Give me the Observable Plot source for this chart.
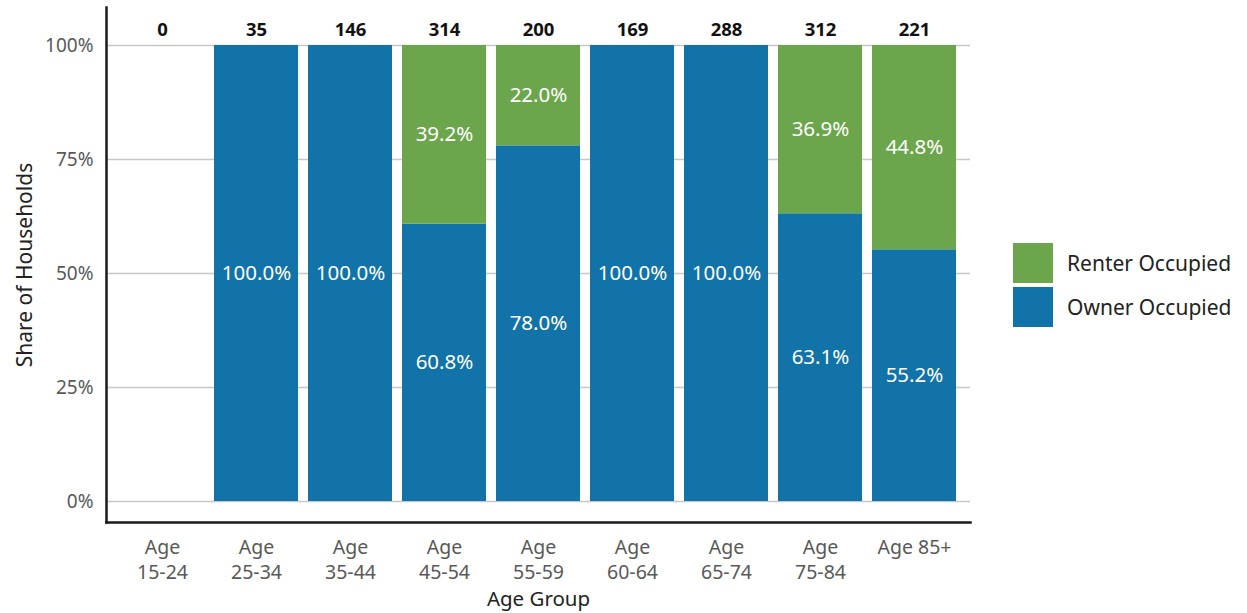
<!DOCTYPE html>
<html><head><meta charset="utf-8">
<script src="https://cdn.jsdelivr.net/npm/d3@7"></script>
<script src="https://cdn.jsdelivr.net/npm/@observablehq/plot@0.6"></script>
<style>
body{margin:0;background:#fff;font-family:"Noto Sans",sans-serif;}
#wrap{position:relative;width:1247px;height:613px;}
#legend{position:absolute;left:1013px;top:243px;}
.row{display:flex;align-items:center;height:40px;margin-bottom:4px;}
.sw{width:40px;height:40px;margin-right:14px;}
.lab{font-size:21px;color:#222;}
g[aria-label="pct"] text{letter-spacing:0.6px;}
</style></head><body><div id="wrap"><div id="chart"></div><div id="legend"></div></div>
<script>
const ageGroups = ["Age\n15-24","Age\n25-34","Age\n35-44","Age\n45-54","Age\n55-59","Age\n60-64","Age\n65-74","Age\n75-84","Age 85+"];
const ownerShare = [0,100,100,60.8,78.0,100,100,63.1,55.2];
const renterShare = [0,0,0,39.2,22.0,0,0,36.9,44.8];
const households = [0,35,146,314,200,169,288,312,221];
const seriesNames = ["Owner Occupied","Renter Occupied"];
const seriesColors = ["#1273a9","#6ca64c"];
const yTicks = [0,25,50,75,100];

const table = [];
seriesNames.forEach((s,i)=> ageGroups.forEach((a,j)=> table.push({age:a, type:s, value: i===0?ownerShare[j]:renterShare[j]})));
const counts = ageGroups.map((a,j)=>({age:a, n:households[j], top:100}));

const chart = Plot.plot({
  width: 1000, height: 613,
  marginLeft:106, marginRight:30, marginTop:7, marginBottom:91,
  style:{fontFamily:"Noto Sans, sans-serif", background:"#fff"},
  x:{domain:ageGroups, paddingInner:0.107, paddingOuter:0.143},
  y:{domain:[0,100], insetTop:38, insetBottom:21},
  color:{domain:seriesNames, range:seriesColors},
  marks:[
    Plot.ruleY(yTicks,{stroke:"#c8c8c8", strokeWidth:1.5}),
    Plot.barY(table,{x:"age", y:"value", fill:"type", filter:d=>d.value>0}),
    Plot.text(table, Plot.stackY({x:"age", y:"value", z:"type", filter:d=>d.value>0, text:d=>d.value.toFixed(1)+"%", fill:"white", fontSize:20.5, ariaLabel:"pct"})),
    Plot.text(counts,{x:"age", y:"top", text:"n", dy:-15, fontWeight:"bold", fontSize:18.5, fill:"#111"}),
    Plot.axisY({ticks:yTicks, tickSize:0, tickPadding:13, tickFormat:d=>d+"%", fontSize:19, fill:"#595959", label:null}),
    Plot.axisX({tickSize:0, tickPadding:14, fontSize:19.5, lineHeight:1.28, fill:"#595959", label:null}),
    Plot.frame({anchor:"left", stroke:"#1a1a1a", strokeWidth:2.5}),
    Plot.frame({anchor:"bottom", stroke:"#1a1a1a", strokeWidth:2.5}),
    Plot.text(["Share of Households"], {frameAnchor:"left", textAnchor:"middle", lineAnchor:"middle", rotate:-90, dx:-81, fontSize:21, fill:"#222"}),
    Plot.text(["Age Group"], {frameAnchor:"bottom", lineAnchor:"middle", dy:77, fontSize:20.5, fill:"#222"})
  ]
});
document.getElementById("chart").appendChild(chart);

const legend = document.getElementById("legend");
[1,0].forEach(i=>{
  const row = document.createElement("div"); row.className="row";
  const sw = document.createElement("div"); sw.className="sw"; sw.style.background=seriesColors[i];
  const lab = document.createElement("div"); lab.className="lab"; lab.textContent=seriesNames[i];
  row.appendChild(sw); row.appendChild(lab); legend.appendChild(row);
});
</script></body></html>
